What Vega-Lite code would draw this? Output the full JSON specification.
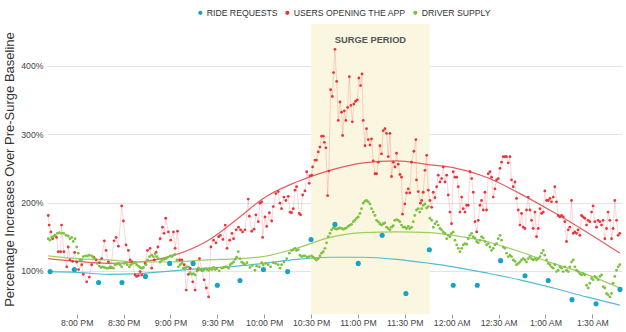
{
"$schema":"https://vega.github.io/schema/vega-lite/v6.json",
"width":575,"height":290,
"autosize":{"type":"none"},
"padding":{"left":47,"top":24,"right":4,"bottom":18},
"config":{"view":{"stroke":null},"font":"Liberation Sans"},
"datasets":{
"band":[{"a":210,"b":286,"mid":248,"label":"SURGE PERIOD"}],
"blue":[{"m":43,"v":99},{"m":58.5,"v":102},{"m":74,"v":83},{"m":89,"v":83},{"m":104,"v":92},{"m":119.5,"v":111},{"m":134.5,"v":111},{"m":150,"v":79},{"m":164.5,"v":86},{"m":179.5,"v":102},{"m":195,"v":99},{"m":210,"v":146},{"m":225.3,"v":168},{"m":240.2,"v":111},{"m":255.5,"v":152},{"m":270.7,"v":67},{"m":285.7,"v":131},{"m":301,"v":79},{"m":316.4,"v":79},{"m":331.3,"v":115},{"m":346.9,"v":93},{"m":361.8,"v":86},{"m":377,"v":58},{"m":392.4,"v":52},{"m":407.7,"v":73}],
"rt":[{"m":41.8,"v":118},{"m":60,"v":114},{"m":80,"v":111},{"m":100,"v":113},{"m":121,"v":122},{"m":143,"v":143},{"m":164,"v":178},{"m":179.4,"v":206},{"m":200.7,"v":230},{"m":222,"v":247},{"m":243.4,"v":258},{"m":264.7,"v":261},{"m":286,"v":255},{"m":301,"v":251},{"m":322.3,"v":237},{"m":343.7,"v":213},{"m":365,"v":186},{"m":386.3,"v":157},{"m":407.6,"v":126}],
"gt":[{"m":41.8,"v":122},{"m":60,"v":118},{"m":80,"v":116},{"m":100,"v":113},{"m":121,"v":113},{"m":143,"v":116},{"m":164,"v":118},{"m":179.4,"v":121},{"m":200.7,"v":133},{"m":222,"v":149},{"m":243.4,"v":156},{"m":264.7,"v":157},{"m":286,"v":156},{"m":301,"v":152},{"m":322.3,"v":143},{"m":343.7,"v":128},{"m":365,"v":111},{"m":386.3,"v":95},{"m":407.6,"v":75}],
"bt":[{"m":41.8,"v":99},{"m":60,"v":98},{"m":80,"v":95},{"m":100,"v":96},{"m":121,"v":100},{"m":143,"v":104},{"m":158,"v":106},{"m":179.4,"v":111},{"m":200.7,"v":117},{"m":222,"v":120},{"m":243.4,"v":120},{"m":264.7,"v":117},{"m":286,"v":111},{"m":301,"v":106},{"m":322.3,"v":97},{"m":343.7,"v":87},{"m":365,"v":75},{"m":386.3,"v":62},{"m":407.6,"v":50}],
"red":[{"m":41.8,"v":181},{"m":42.4,"v":167},{"m":43.5,"v":157},{"m":44.6,"v":147},{"m":46.1,"v":152},{"m":47.1,"v":149},{"m":48.2,"v":128},{"m":49.7,"v":128},{"m":50.3,"v":167},{"m":51.8,"v":128},{"m":53.6,"v":106},{"m":54.6,"v":135},{"m":55.7,"v":116},{"m":57.4,"v":114},{"m":58.7,"v":127},{"m":60,"v":113},{"m":61.2,"v":102},{"m":63.2,"v":109},{"m":64.2,"v":95},{"m":66.4,"v":84},{"m":68.1,"v":91},{"m":69.6,"v":109},{"m":71,"v":120},{"m":72.4,"v":116},{"m":74.5,"v":112},{"m":76,"v":118},{"m":77.7,"v":144},{"m":78.8,"v":130},{"m":80.3,"v":113},{"m":81.8,"v":105},{"m":83.9,"v":144},{"m":85.2,"v":149},{"m":86.7,"v":136},{"m":88.8,"v":195},{"m":89.9,"v":173},{"m":91.6,"v":138},{"m":93.1,"v":130},{"m":94.2,"v":116},{"m":95.4,"v":113},{"m":97.4,"v":94},{"m":98.4,"v":92},{"m":99.5,"v":93},{"m":100.6,"v":99},{"m":101.6,"v":94},{"m":103.8,"v":111},{"m":105.3,"v":130},{"m":107,"v":133},{"m":108,"v":104},{"m":109.7,"v":116},{"m":110.8,"v":127},{"m":112,"v":135},{"m":113.4,"v":147},{"m":114.9,"v":164},{"m":115.9,"v":155},{"m":117,"v":177},{"m":118.7,"v":157},{"m":120.2,"v":145},{"m":121.9,"v":157},{"m":123,"v":133},{"m":124.5,"v":158},{"m":125.8,"v":116},{"m":127.3,"v":116},{"m":128.8,"v":109},{"m":130.1,"v":72},{"m":131.5,"v":95},{"m":132.6,"v":104},{"m":134.3,"v":84},{"m":135.8,"v":72},{"m":137.3,"v":101},{"m":138.6,"v":118},{"m":140.1,"v":101},{"m":141.6,"v":87},{"m":143,"v":75},{"m":144.4,"v":62},{"m":145.9,"v":135},{"m":147.6,"v":145},{"m":149.1,"v":141},{"m":150.8,"v":150},{"m":151.9,"v":152},{"m":153.6,"v":146},{"m":155.1,"v":167},{"m":156.2,"v":133},{"m":157.9,"v":145},{"m":159.4,"v":155},{"m":160.4,"v":147},{"m":162.1,"v":160},{"m":163.6,"v":164},{"m":164.9,"v":160},{"m":166.2,"v":157},{"m":167.7,"v":160},{"m":169.8,"v":205},{"m":170.5,"v":180},{"m":172,"v":158},{"m":173.5,"v":161},{"m":174.7,"v":182},{"m":176.2,"v":172},{"m":177.3,"v":199},{"m":178.4,"v":201},{"m":179,"v":149},{"m":180.5,"v":179},{"m":181.6,"v":165},{"m":183.3,"v":185},{"m":184.8,"v":173},{"m":185.8,"v":194},{"m":187.5,"v":213},{"m":189,"v":216},{"m":190.1,"v":199},{"m":191.1,"v":191},{"m":192.6,"v":208},{"m":193.9,"v":203},{"m":195.4,"v":209},{"m":196.5,"v":186},{"m":197.5,"v":185},{"m":198.6,"v":191},{"m":199.7,"v":218},{"m":200.7,"v":223},{"m":202.4,"v":184},{"m":203.3,"v":182},{"m":204.6,"v":211},{"m":206.1,"v":217},{"m":207.2,"v":245},{"m":208.8,"v":228},{"m":209.3,"v":239},{"m":210.4,"v":240},{"m":211,"v":252},{"m":212.5,"v":262},{"m":213.5,"v":262},{"m":214.6,"v":274},{"m":215.7,"v":281},{"m":216.8,"v":297},{"m":217.8,"v":297},{"m":218.5,"v":288},{"m":219.5,"v":280},{"m":220.6,"v":210},{"m":221.4,"v":246},{"m":222.5,"v":365},{"m":223.6,"v":355},{"m":224.4,"v":390},{"m":225.3,"v":424},{"m":226.4,"v":377},{"m":227.4,"v":320},{"m":228.5,"v":347},{"m":229.5,"v":332},{"m":230.2,"v":298},{"m":231.3,"v":334},{"m":232.3,"v":320},{"m":233.4,"v":339},{"m":234.5,"v":384},{"m":235.5,"v":342},{"m":236.4,"v":318},{"m":237.4,"v":344},{"m":238.5,"v":348},{"m":239.6,"v":350},{"m":240.6,"v":382},{"m":241.7,"v":371},{"m":242.6,"v":388},{"m":243.4,"v":320},{"m":244.5,"v":283},{"m":245.5,"v":308},{"m":246.6,"v":292},{"m":247.7,"v":284},{"m":248.7,"v":293},{"m":249.8,"v":261},{"m":250.9,"v":242},{"m":251.9,"v":242},{"m":253,"v":259},{"m":254.1,"v":283},{"m":255.1,"v":271},{"m":256.2,"v":305},{"m":257.3,"v":308},{"m":258.3,"v":301},{"m":259.4,"v":267},{"m":260.5,"v":301},{"m":261.5,"v":238},{"m":262.6,"v":259},{"m":263.7,"v":252},{"m":264.7,"v":272},{"m":265.8,"v":256},{"m":266.9,"v":241},{"m":267.9,"v":237},{"m":268.5,"v":183},{"m":270,"v":198},{"m":271.1,"v":214},{"m":272.2,"v":220},{"m":273.2,"v":214},{"m":274.3,"v":259},{"m":275.8,"v":275},{"m":277.1,"v":292},{"m":277.5,"v":233},{"m":278.6,"v":216},{"m":280,"v":199},{"m":280.8,"v":203},{"m":281.8,"v":215},{"m":282.9,"v":247},{"m":284,"v":269},{"m":285,"v":218},{"m":286.1,"v":203},{"m":287.2,"v":193},{"m":288.2,"v":215},{"m":289.3,"v":207},{"m":290.4,"v":223},{"m":291.4,"v":240},{"m":292.5,"v":230},{"m":293.6,"v":235},{"m":294.6,"v":252},{"m":295.7,"v":230},{"m":296.8,"v":240},{"m":297.8,"v":211},{"m":298.9,"v":186},{"m":299.9,"v":169},{"m":301,"v":245},{"m":302.1,"v":237},{"m":303.2,"v":237},{"m":304.2,"v":223},{"m":305.3,"v":186},{"m":306.4,"v":208},{"m":307.4,"v":191},{"m":308.5,"v":186},{"m":309.6,"v":196},{"m":310.6,"v":196},{"m":311.7,"v":245},{"m":312.8,"v":235},{"m":313.8,"v":215},{"m":314.9,"v":172},{"m":316,"v":157},{"m":317,"v":174},{"m":318.1,"v":196},{"m":319.1,"v":203},{"m":320.2,"v":189},{"m":321.3,"v":215},{"m":322.3,"v":189},{"m":323.4,"v":242},{"m":324.5,"v":245},{"m":325.5,"v":237},{"m":326.6,"v":208},{"m":327.7,"v":220},{"m":328.7,"v":233},{"m":329.8,"v":235},{"m":330.9,"v":250},{"m":331.9,"v":259},{"m":333,"v":267},{"m":334.1,"v":267},{"m":335.1,"v":267},{"m":336.2,"v":258},{"m":337.3,"v":267},{"m":338.3,"v":233},{"m":339.4,"v":223},{"m":340.5,"v":230},{"m":341.5,"v":206},{"m":342.6,"v":189},{"m":343.7,"v":167},{"m":344.7,"v":184},{"m":345.8,"v":164},{"m":346.9,"v":162},{"m":347.9,"v":189},{"m":349,"v":208},{"m":350.1,"v":189},{"m":351.1,"v":174},{"m":352.2,"v":162},{"m":353.3,"v":186},{"m":354.3,"v":150},{"m":355.4,"v":162},{"m":356.5,"v":191},{"m":357.5,"v":184},{"m":358.6,"v":186},{"m":359.6,"v":217},{"m":360.7,"v":203},{"m":361.8,"v":203},{"m":362.9,"v":206},{"m":363.9,"v":201},{"m":365,"v":208},{"m":366,"v":223},{"m":367.1,"v":201},{"m":368.2,"v":181},{"m":369.2,"v":179},{"m":370.3,"v":181},{"m":371.4,"v":179},{"m":372.4,"v":172},{"m":373.5,"v":143},{"m":374.6,"v":160},{"m":375.6,"v":164},{"m":376.7,"v":203},{"m":377.8,"v":155},{"m":378.8,"v":157},{"m":379.9,"v":155},{"m":380.9,"v":160},{"m":382,"v":152},{"m":383.1,"v":181},{"m":384.2,"v":179},{"m":385.2,"v":177},{"m":386.3,"v":167},{"m":387.3,"v":174},{"m":388.4,"v":172},{"m":389.5,"v":186},{"m":390.5,"v":195},{"m":391.6,"v":172},{"m":392.7,"v":164},{"m":393.7,"v":174},{"m":394.8,"v":172},{"m":395.9,"v":167},{"m":396.9,"v":174},{"m":398,"v":147},{"m":399.1,"v":162},{"m":400.1,"v":186},{"m":401.2,"v":174},{"m":402.3,"v":147},{"m":403.3,"v":162},{"m":404.4,"v":203},{"m":405.5,"v":174},{"m":406.5,"v":152},{"m":407.6,"v":155}],
"green":[{"m":41.8,"v":147},{"m":42.9,"v":145},{"m":43.9,"v":149},{"m":45,"v":150},{"m":46.1,"v":152},{"m":47.6,"v":155},{"m":48.9,"v":156},{"m":50.3,"v":155},{"m":51.7,"v":155},{"m":53.1,"v":152},{"m":54.6,"v":151},{"m":55.7,"v":147},{"m":56.8,"v":149},{"m":57.8,"v":143},{"m":59,"v":147},{"m":60,"v":135},{"m":61,"v":126},{"m":62.1,"v":116},{"m":63.2,"v":116},{"m":64.2,"v":121},{"m":65.7,"v":122},{"m":66.9,"v":122},{"m":68.1,"v":123},{"m":69.6,"v":122},{"m":70.6,"v":120},{"m":71.7,"v":118},{"m":73.2,"v":111},{"m":74.5,"v":107},{"m":75.6,"v":105},{"m":76.7,"v":106},{"m":77.7,"v":105},{"m":79.2,"v":104},{"m":80.3,"v":104},{"m":81.4,"v":106},{"m":82.4,"v":105},{"m":83.5,"v":104},{"m":84.5,"v":109},{"m":85.6,"v":110},{"m":86.7,"v":111},{"m":87.8,"v":109},{"m":88.8,"v":106},{"m":90.3,"v":111},{"m":91.6,"v":112},{"m":92.4,"v":109},{"m":93.7,"v":106},{"m":94.6,"v":109},{"m":95.9,"v":111},{"m":97.4,"v":112},{"m":98.4,"v":109},{"m":99.5,"v":107},{"m":100.6,"v":105},{"m":101.6,"v":104},{"m":102.7,"v":105},{"m":104.4,"v":109},{"m":105.3,"v":116},{"m":106.5,"v":121},{"m":108,"v":123},{"m":109.1,"v":121},{"m":110.2,"v":125},{"m":111.2,"v":121},{"m":112.3,"v":118},{"m":113.4,"v":113},{"m":114.5,"v":116},{"m":116,"v":117},{"m":117.2,"v":118},{"m":118.3,"v":120},{"m":119.8,"v":122},{"m":120.8,"v":121},{"m":121.9,"v":123},{"m":123,"v":124},{"m":124.1,"v":116},{"m":125.1,"v":106},{"m":126.2,"v":109},{"m":127.3,"v":111},{"m":128.3,"v":104},{"m":129.4,"v":104},{"m":130.5,"v":106},{"m":131.5,"v":106},{"m":132.6,"v":97},{"m":133.7,"v":95},{"m":134.7,"v":96},{"m":135.8,"v":94},{"m":136.9,"v":100},{"m":137.9,"v":104},{"m":139,"v":102},{"m":140.1,"v":102},{"m":141.2,"v":101},{"m":142.3,"v":103},{"m":143.3,"v":102},{"m":144.4,"v":101},{"m":145.5,"v":103},{"m":146.6,"v":102},{"m":147.6,"v":105},{"m":148.6,"v":102},{"m":149.7,"v":103},{"m":151.2,"v":100},{"m":152.9,"v":104},{"m":154,"v":105},{"m":155.1,"v":106},{"m":156.2,"v":106},{"m":157.2,"v":104},{"m":158.2,"v":109},{"m":159.3,"v":111},{"m":160.4,"v":113},{"m":161.5,"v":117},{"m":162.4,"v":120},{"m":163.4,"v":128},{"m":164.5,"v":118},{"m":165.6,"v":113},{"m":166.7,"v":111},{"m":167.7,"v":109},{"m":169,"v":112},{"m":170.9,"v":105},{"m":172.4,"v":108},{"m":174.1,"v":101},{"m":175.2,"v":107},{"m":176.9,"v":106},{"m":178.4,"v":112},{"m":179.4,"v":109},{"m":181.1,"v":111},{"m":182.6,"v":109},{"m":184.1,"v":106},{"m":185.8,"v":112},{"m":187.3,"v":111},{"m":189,"v":109},{"m":190.1,"v":104},{"m":191.1,"v":109},{"m":192.6,"v":113},{"m":194.4,"v":118},{"m":196.1,"v":126},{"m":197.5,"v":130},{"m":198.6,"v":131},{"m":199.7,"v":133},{"m":200.7,"v":130},{"m":201.8,"v":131},{"m":202.9,"v":123},{"m":204,"v":121},{"m":205,"v":122},{"m":206.1,"v":122},{"m":207.6,"v":120},{"m":208.8,"v":121},{"m":210.3,"v":122},{"m":211.4,"v":120},{"m":212.4,"v":118},{"m":213.5,"v":116},{"m":214.6,"v":118},{"m":215.7,"v":122},{"m":216.7,"v":126},{"m":217.8,"v":128},{"m":218.9,"v":133},{"m":219.9,"v":141},{"m":221,"v":150},{"m":222.1,"v":155},{"m":223.1,"v":160},{"m":224.2,"v":163},{"m":225.3,"v":162},{"m":226.3,"v":161},{"m":227.4,"v":162},{"m":228.5,"v":163},{"m":229.5,"v":162},{"m":230.6,"v":161},{"m":231.6,"v":162},{"m":232.7,"v":163},{"m":233.8,"v":165},{"m":234.8,"v":167},{"m":235.9,"v":168},{"m":237,"v":172},{"m":238,"v":174},{"m":239.1,"v":177},{"m":240.2,"v":179},{"m":241.3,"v":184},{"m":242.3,"v":191},{"m":243.4,"v":199},{"m":244.5,"v":202},{"m":245.5,"v":203},{"m":246.6,"v":201},{"m":247.7,"v":198},{"m":248.7,"v":191},{"m":249.8,"v":186},{"m":250.9,"v":181},{"m":251.9,"v":174},{"m":253,"v":172},{"m":254,"v":169},{"m":255.1,"v":167},{"m":256.2,"v":169},{"m":257.2,"v":170},{"m":258.3,"v":164},{"m":259.4,"v":162},{"m":260.5,"v":160},{"m":261.5,"v":164},{"m":262.6,"v":166},{"m":263.6,"v":174},{"m":264.7,"v":175},{"m":265.8,"v":174},{"m":266.8,"v":172},{"m":267.9,"v":167},{"m":269,"v":164},{"m":270,"v":164},{"m":271.1,"v":162},{"m":272.2,"v":165},{"m":273.2,"v":162},{"m":274.3,"v":164},{"m":275.4,"v":172},{"m":276.4,"v":181},{"m":277.5,"v":189},{"m":278.6,"v":191},{"m":279.6,"v":186},{"m":280.8,"v":191},{"m":281.8,"v":196},{"m":282.9,"v":198},{"m":284,"v":192},{"m":285,"v":194},{"m":286.1,"v":177},{"m":287.2,"v":174},{"m":288.2,"v":164},{"m":289.3,"v":169},{"m":290.4,"v":172},{"m":291.4,"v":167},{"m":292.5,"v":162},{"m":293.5,"v":160},{"m":294.6,"v":157},{"m":295.7,"v":155},{"m":296.8,"v":147},{"m":297.8,"v":152},{"m":298.9,"v":150},{"m":299.9,"v":155},{"m":301,"v":157},{"m":302.1,"v":145},{"m":303.2,"v":138},{"m":304.2,"v":133},{"m":305.3,"v":128},{"m":306.4,"v":133},{"m":307.4,"v":138},{"m":308.5,"v":140},{"m":309.6,"v":139},{"m":310.6,"v":147},{"m":311.7,"v":152},{"m":312.8,"v":155},{"m":313.8,"v":150},{"m":314.9,"v":148},{"m":316,"v":143},{"m":317,"v":141},{"m":318.1,"v":145},{"m":319.1,"v":150},{"m":320.2,"v":148},{"m":321.3,"v":143},{"m":322.3,"v":138},{"m":323.4,"v":140},{"m":324.5,"v":135},{"m":325.5,"v":130},{"m":326.6,"v":133},{"m":327.7,"v":138},{"m":328.7,"v":140},{"m":329.8,"v":147},{"m":330.9,"v":152},{"m":331.9,"v":145},{"m":333,"v":135},{"m":334.1,"v":133},{"m":335.1,"v":126},{"m":336.2,"v":121},{"m":337.3,"v":123},{"m":338.3,"v":121},{"m":339.4,"v":116},{"m":340.5,"v":114},{"m":341.5,"v":109},{"m":342.6,"v":111},{"m":343.7,"v":113},{"m":344.7,"v":116},{"m":345.8,"v":118},{"m":346.9,"v":116},{"m":347.9,"v":113},{"m":349,"v":118},{"m":350.1,"v":121},{"m":351.1,"v":118},{"m":352.2,"v":116},{"m":353.3,"v":118},{"m":354.3,"v":116},{"m":355.4,"v":118},{"m":356.5,"v":121},{"m":357.5,"v":126},{"m":358.6,"v":130},{"m":359.6,"v":123},{"m":360.7,"v":116},{"m":361.8,"v":111},{"m":362.9,"v":109},{"m":363.9,"v":106},{"m":365,"v":104},{"m":366,"v":109},{"m":367.1,"v":99},{"m":368.2,"v":101},{"m":369.2,"v":106},{"m":370.3,"v":104},{"m":371.4,"v":99},{"m":372.4,"v":106},{"m":373.5,"v":101},{"m":374.6,"v":99},{"m":375.6,"v":106},{"m":376.7,"v":113},{"m":377.8,"v":116},{"m":378.8,"v":106},{"m":379.9,"v":101},{"m":381,"v":99},{"m":382,"v":96},{"m":383.1,"v":94},{"m":384.2,"v":96},{"m":385.2,"v":94},{"m":386.3,"v":79},{"m":387.4,"v":75},{"m":388.4,"v":82},{"m":389.5,"v":89},{"m":390.5,"v":87},{"m":391.6,"v":92},{"m":392.7,"v":90},{"m":393.8,"v":87},{"m":394.8,"v":92},{"m":395.9,"v":94},{"m":397,"v":77},{"m":398,"v":75},{"m":399.1,"v":67},{"m":400.1,"v":65},{"m":401.2,"v":62},{"m":402.3,"v":67},{"m":403.3,"v":82},{"m":404.4,"v":92},{"m":405.5,"v":101},{"m":406.5,"v":106},{"m":407.6,"v":109}]
},
"layer":[
{"data":{"name":"band"},"mark":{"type":"rect","color":"#faf6df"},
 "encoding":{
  "x":{"field":"a","type":"quantitative","scale":{"domain":[41,409],"nice":false,"zero":false},
   "axis":{"title":null,"values":[60,90,120,150,180,210,240,270,300,330,360,390],"labelExpr":"timeFormat(datetime(2020,0,1,19,datum.value),'%-I:%M %p')","grid":false,"domain":false,"ticks":true,"tickSize":4,"tickColor":"#999","labelFontSize":8.7,"labelColor":"#444","labelPadding":0}},
  "x2":{"field":"b"}}},
{"data":{"name":"band"},"mark":{"type":"text","fontWeight":"bold","fontSize":9.3,"color":"#555","baseline":"middle"},
 "encoding":{"x":{"field":"mid","type":"quantitative"},"y":{"datum":437,"type":"quantitative"},"text":{"field":"label"}}},
{"data":{"name":"red"},"mark":{"type":"line","color":"#e8363c","opacity":0.2,"strokeWidth":1},
 "encoding":{"x":{"field":"m","type":"quantitative"},
  "y":{"field":"v","type":"quantitative","scale":{"domain":[37,461],"nice":false,"zero":false},
   "axis":{"title":"Percentage Increases Over Pre-Surge Baseline","titleFontSize":13,"titleFontWeight":"normal","titleColor":"#333","titlePadding":4,"values":[100,200,300,400],"labelExpr":"datum.value + '%'","grid":true,"gridColor":"#e4e4e4","domain":false,"ticks":false,"labelFontSize":8.7,"labelColor":"#444","labelPadding":4}}}},
{"data":{"name":"rt"},"mark":{"type":"line","color":"#e35d61","strokeWidth":1.2,"interpolate":"monotone"},"encoding":{"x":{"field":"m","type":"quantitative"},"y":{"field":"v","type":"quantitative"}}},
{"data":{"name":"gt"},"mark":{"type":"line","color":"#9fcd62","strokeWidth":1.2,"interpolate":"monotone"},"encoding":{"x":{"field":"m","type":"quantitative"},"y":{"field":"v","type":"quantitative"}}},
{"data":{"name":"bt"},"mark":{"type":"line","color":"#55bad6","strokeWidth":1.2,"interpolate":"monotone"},"encoding":{"x":{"field":"m","type":"quantitative"},"y":{"field":"v","type":"quantitative"}}},
{"data":{"name":"red"},"mark":{"type":"point","filled":true,"size":8,"opacity":1},
 "encoding":{"x":{"field":"m","type":"quantitative"},"y":{"field":"v","type":"quantitative"},
  "color":{"datum":"USERS OPENING THE APP","scale":{"domain":["RIDE REQUESTS","USERS OPENING THE APP","DRIVER SUPPLY"],"range":["#17a3c8","#e8363c","#7cc242"]},
   "legend":{"orient":"none","legendX":149,"legendY":-16,"direction":"horizontal","title":null,"symbolType":"circle","symbolSize":18,"labelFontSize":8.7,"labelColor":"#333","labelOffset":2,"columnPadding":5}}}},
{"data":{"name":"green"},"mark":{"type":"point","filled":true,"size":8,"opacity":1},
 "encoding":{"x":{"field":"m","type":"quantitative"},"y":{"field":"v","type":"quantitative"},"color":{"datum":"DRIVER SUPPLY"}}},
{"data":{"name":"blue"},"mark":{"type":"point","filled":true,"size":26,"opacity":1},
 "encoding":{"x":{"field":"m","type":"quantitative"},"y":{"field":"v","type":"quantitative"},"color":{"datum":"RIDE REQUESTS"}}}
]
}
